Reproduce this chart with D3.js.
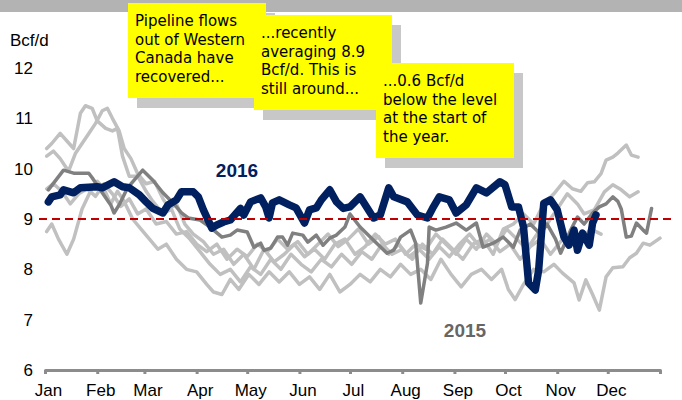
<!DOCTYPE html>
<html>
<head>
<meta charset="utf-8">
<script src="https://cdn.jsdelivr.net/npm/d3@7"></script>
<style>
  body { margin: 0; background: #fff; }
</style>
</head>
<body>
<div class="chart"></div>
<script>
// day of year -> value
var s2016 = [[2,9.34],[4,9.44],[9,9.48],[11,9.58],[17,9.52],[21,9.62],[31,9.64],[34,9.62],[41,9.74],[46,9.64],[50,9.62],[56,9.48],[60,9.34],[64,9.21],[70,9.12],[73,9.28],[78,9.38],[81,9.54],[88,9.54],[91,9.44],[94,9.18],[99,8.82],[102,8.88],[106,8.94],[110,8.98],[116,9.21],[118,9.08],[122,9.34],[128,9.42],[131,9.24],[133,9.02],[135,9.32],[139,9.38],[145,9.28],[149,9.22],[154,8.92],[157,9.18],[161,9.22],[164,9.38],[169,9.58],[173,9.34],[177,9.21],[181,9.24],[187,9.44],[195,9.02],[199,9.08],[204,9.62],[207,9.44],[215,9.34],[221,9.08],[227,9.02],[230,9.21],[234,9.44],[240,9.38],[244,9.12],[250,9.28],[256,9.62],[262,9.52],[270,9.74],[273,9.68],[277,9.24],[281,9.24],[284,8.84],[287,7.73],[291,7.59],[293,7.99],[296,9.31],[300,9.38],[304,9.18],[308,8.64],[311,8.48],[314,8.78],[316,8.38],[319,8.72],[323,8.48],[325,8.92],[327,9.08]];

var s2015 = [[2,9.58],[11,9.97],[17,9.91],[26,9.91],[28,9.82],[34,9.52],[39,9.28],[41,9.12],[44,9.28],[49,9.62],[58,9.97],[64,9.77],[70,9.52],[76,9.32],[81,9.12],[85,9.02],[92,8.98],[98,8.84],[105,8.64],[110,8.68],[114,8.78],[120,8.74],[124,8.44],[128,8.52],[130,8.38],[134,8.42],[138,8.64],[141,8.64],[144,8.48],[147,8.72],[153,8.68],[156,8.54],[161,8.68],[165,8.48],[169,8.62],[173,8.68],[178,8.84],[181,9.1],[187,8.84],[195,8.58],[203,8.32],[207,8.38],[211,8.64],[217,8.78],[220,8.52],[223,7.33],[227,8.12],[228,8.84],[232,8.78],[238,8.84],[244,8.92],[250,8.78],[256,8.92],[260,8.44],[266,8.52],[272,8.64],[278,8.44],[282,8.78],[288,8.9],[294,8.7],[298,8.9],[303,8.6],[306,8.32],[312,8.78],[316,9.04],[320,8.9],[325,9.12],[329,9.24],[333,9.3],[337,9.44],[340,9.35],[342,9.2],[345,8.64],[348,8.66],[351,8.92],[355,8.78],[357,8.72],[360,9.21]];

var sOld1 = [[1,10.4],[4,10.5],[9,10.7],[13,10.55],[17,10.4],[21,11.1],[24,11.25],[28,11.2],[31,10.95],[36,10.8],[40,10.75],[43,10.8],[46,10.25],[50,9.85],[55,9.85],[60,9.55],[64,9.35],[70,9.1],[75,9.2],[80,8.8],[86,8.6],[92,8.35],[98,8.1],[104,7.9],[110,8.0],[116,7.75],[122,8.05],[128,7.9],[134,8.2],[140,8.0],[146,8.3],[152,8.1],[158,7.95],[164,8.2],[170,8.05],[176,8.3],[182,8.1],[188,8.35],[194,8.2],[200,8.5],[206,8.3],[212,8.4],[218,8.2],[224,8.5],[230,8.3],[236,8.6],[242,8.4],[248,8.2],[254,8.5],[260,8.6],[266,8.3],[272,8.8],[278,8.9],[284,9.1],[290,8.9],[296,9.3],[302,9.5],[308,9.75],[313,9.6],[318,9.55],[322,9.72],[326,9.74],[330,9.9],[333,10.17],[337,10.23],[340,10.31],[345,10.47],[348,10.27],[352,10.23]];

var sOld2 = [[1,10.25],[5,10.35],[9,10.2],[14,9.95],[18,10.3],[22,10.5],[26,10.7],[30,10.9],[34,11.15],[37,11.2],[40,11.0],[44,10.75],[47,10.4],[51,10.2],[55,9.9],[60,9.7],[65,9.75],[70,9.4],[74,9.2],[78,9.3],[83,8.9],[88,8.7],[94,8.55],[100,8.3],[106,8.4],[112,8.1],[118,8.3],[124,8.0],[130,8.4],[136,8.15],[142,8.3],[148,8.5],[154,8.25],[160,8.4],[166,8.2],[172,8.5],[178,8.6],[184,8.3],[190,8.45],[196,8.7],[202,8.5],[208,8.6],[214,8.3],[220,8.5],[226,8.4],[232,8.7],[238,8.5],[244,8.3],[250,8.6],[256,8.4],[262,8.7],[268,8.5],[274,8.8],[280,8.6],[286,8.4],[292,8.7],[298,8.9],[304,9.2],[310,9.5],[316,9.3],[320,9.1],[326,9.18],[332,9.54],[337,9.68],[342,9.58],[347,9.44],[352,9.54]];

var sOld3 = [[1,8.75],[4,8.9],[8,8.6],[13,8.3],[17,8.6],[22,9.2],[27,9.55],[31,9.75],[35,9.6],[39,9.3],[43,9.55],[47,9.35],[52,9.0],[57,8.8],[62,8.6],[67,8.4],[72,8.5],[78,8.2],[84,8.0],[90,7.95],[96,7.7],[100,7.55],[105,7.5],[110,7.8],[115,7.6],[121,7.9],[127,7.7],[133,7.95],[139,7.75],[145,7.95],[151,7.7],[157,7.85],[163,7.6],[169,7.9],[175,7.55],[181,7.7],[187,7.9],[193,7.75],[199,8.0],[205,7.85],[211,8.1],[217,7.9],[223,8.0],[229,7.8],[235,8.2],[241,7.9],[247,7.65],[253,7.9],[259,8.0],[265,7.8],[271,8.0],[275,7.6],[279,7.4],[284,7.7],[290,8.0],[296,7.95],[302,8.1],[307,7.93],[314,7.73],[317,7.39],[321,7.79],[325,7.5],[329,7.19],[333,7.85],[337,8.03],[343,8.05],[347,8.23],[351,8.32],[355,8.52],[359,8.48],[365,8.62]];

var sOld4 = [[1,9.6],[5,9.7],[10,9.55],[15,9.3],[20,9.5],[25,9.6],[30,9.45],[35,9.7],[40,9.5],[45,9.25],[50,9.4],[55,9.1],[60,9.2],[66,8.9],[72,8.95],[78,8.7],[84,8.75],[90,8.5],[96,8.35],[102,8.5],[108,8.2],[114,8.4],[120,8.25],[126,8.5],[132,8.35],[138,8.6],[144,8.4],[150,8.55],[156,8.3],[162,8.5],[168,8.7],[174,8.45],[180,8.6],[186,8.8],[192,8.5],[198,8.65],[204,8.3],[210,8.5],[216,8.25],[222,8.4],[228,8.2],[234,8.45],[240,8.25],[246,8.5],[252,8.7],[258,8.45],[264,8.6],[270,8.35],[276,8.5],[282,8.2],[288,8.45],[294,8.6],[300,8.3],[306,8.55],[312,8.72],[318,8.6],[324,8.8],[330,8.7]];

var refLevel = 9;
var yTicks = [6, 7, 8, 9, 10, 11, 12];
var notes = [
  ["Pipeline flows", "out of Western", "Canada have", "recovered..."],
  ["...recently", "averaging 8.9", "Bcf/d. This is", "still around..."],
  ["...0.6 Bcf/d", "below the level", "at the start of", "the year."]
];

var width = 682, height = 400;
var margin = {top: 68, right: 22, bottom: 30, left: 45};
var start = new Date(2015, 0, 1), end = new Date(2016, 0, 1);
var sans = '"Liberation Sans", Arial, sans-serif';

var svg = d3.select('.chart').append('svg')
  .attr('width', width)
  .attr('height', height);

// grey band on top
svg.append('rect').attr('x', 0).attr('y', 0).attr('width', width).attr('height', 12).attr('fill', '#b3b3b3');

var x = d3.scaleTime().domain([start, end]).range([margin.left, width - margin.right]);
var y = d3.scaleLinear().domain([6, 12]).range([height - margin.bottom, margin.top]);

var day = function(d) { return x(d3.timeDay.offset(start, d[0])); };
var line = d3.line().x(day).y(function(d) { return y(d[1]); });

// y labels
svg.append('text').attr('x', 10).attr('y', 46).style('font-family', sans).attr('font-size', 17).attr('fill', '#000').text('Bcf/d');
svg.selectAll('.ylab').data(yTicks).enter().append('text')
  .attr('class', 'ylab')
  .attr('x', 33)
  .attr('y', function(d) { return y(d); })
  .attr('dy', '0.35em')
  .attr('text-anchor', 'end')
  .style('font-family', sans)
  .attr('font-size', 17)
  .text(function(d) { return d; });

// x axis
var xAxis = d3.axisBottom(x)
  .tickValues(d3.timeMonth.range(start, end))
  .tickFormat(d3.timeFormat('%b'))
  .tickSizeInner(4).tickSizeOuter(4).tickPadding(10);
var gx = svg.append('g').attr('transform', 'translate(0,' + y(6) + ')').call(xAxis);
gx.select('.domain').attr('stroke', '#8c8c8c').attr('stroke-width', 3).attr('stroke-linejoin', 'round');
gx.selectAll('.tick line').attr('stroke', '#8c8c8c').attr('stroke-width', 3);
gx.selectAll('.tick text').attr('font-size', 17).attr('fill', '#000')
  .style('font-family', sans).attr('dx', 3);

// series
var lines = svg.append('g').attr('fill', 'none').attr('stroke-linejoin', 'round').attr('stroke-linecap', 'round');
[sOld1, sOld2, sOld3, sOld4].forEach(function(s) {
  lines.append('path').attr('d', line(s)).attr('stroke', '#c0c0c0').attr('stroke-width', 3.5);
});
lines.append('path').attr('d', line(s2015)).attr('stroke', '#808080').attr('stroke-width', 3.5);
lines.append('path').attr('d', line(s2016)).attr('stroke', '#002060').attr('stroke-width', 7.5);

// reference level
svg.append('line')
  .attr('x1', x.range()[0] - 6).attr('x2', x.range()[1] + 12)
  .attr('y1', y(refLevel)).attr('y2', y(refLevel))
  .attr('stroke', '#c00000').attr('stroke-width', 2).attr('stroke-dasharray', '8,5');

svg.append('text').attr('x', 237).attr('y', 177).attr('text-anchor', 'middle').style('font-family', sans)
  .attr('font-size', 19).attr('font-weight', 'bold').attr('fill', '#002060').text('2016');
svg.append('text').attr('x', 465).attr('y', 337).attr('text-anchor', 'middle').style('font-family', sans)
  .attr('font-size', 19).attr('font-weight', 'bold').attr('fill', '#666666').text('2015');

// note boxes
var boxes = [{x: 128, y: 3}, {x: 254, y: 15}, {x: 376, y: 63}];
boxes.forEach(function(b, i) {
  var g = svg.append('g').attr('transform', 'translate(' + b.x + ',' + b.y + ')');
  g.append('rect').attr('x', 9).attr('y', 10).attr('width', 138).attr('height', 95).attr('fill', '#c8c8c8');
  g.append('rect').attr('width', 138).attr('height', 95).attr('fill', '#ffff00');
  g.selectAll('text').data(notes[i]).enter().append('text')
    .attr('x', 7)
    .attr('y', function(d, j) { return 23 + j * 18.5; })
    .style('font-family', '"Comic Sans MS", "DejaVu Sans", sans-serif')
    .style('font-size', '15px')
    .attr('fill', '#000')
    .text(function(d) { return d; });
});
</script>
</body>
</html>
